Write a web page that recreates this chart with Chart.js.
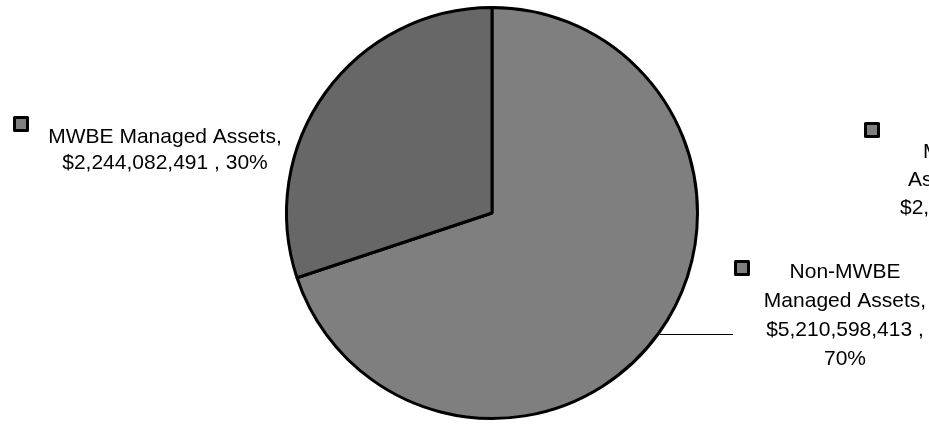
<!DOCTYPE html>
<html>
<head>
<meta charset="utf-8">
<script src="https://cdn.jsdelivr.net/npm/chart.js@4.4.1/dist/chart.umd.min.js"></script>
<style>
  html, body { margin: 0; padding: 0; background: #ffffff; }
  #wrap { width: 929px; height: 426px; position: relative; }
</style>
</head>
<body>
<div id="wrap"><canvas id="c" width="929" height="426"></canvas></div>
<script>
// ---- Data ----
const categories = ["Non-MWBE Managed Assets", "MWBE Managed Assets"];
const assetValues = [5210598413, 2244082491];
const percentLabels = ["70%", "30%"];
const sliceColors = ["#7f7f7f", "#676767"];

function fmtMoney(v) {
  return "$" + v.toLocaleString("en-US");
}

const FONT = '21px "Liberation Sans", Arial, sans-serif';

const labelPlugin = {
  id: "sliceLabels",
  afterDatasetsDraw(chart) {
    const ctx = chart.ctx;
    const meta = chart.getDatasetMeta(0);
    const arc0 = meta.data[0];
    const cx = arc0.x, cy = arc0.y, r = arc0.outerRadius;
    ctx.save();
    ctx.font = FONT;
    ctx.fillStyle = "#000";
    ctx.textBaseline = "middle";

    function marker(x, y) {
      ctx.save();
      ctx.fillStyle = "#7f7f7f";
      ctx.strokeStyle = "#000";
      ctx.lineWidth = 3;
      ctx.lineJoin = "round";
      ctx.beginPath();
      ctx.rect(x, y, 13, 13);
      ctx.fill();
      ctx.stroke();
      ctx.restore();
    }

    // Leader line for Non-MWBE slice at its mid angle
    const mid = (arc0.startAngle + arc0.endAngle) / 2;
    const lx = cx + Math.cos(mid) * (r + 1);
    const ly = cy + Math.sin(mid) * (r + 1);
    ctx.save();
    ctx.strokeStyle = "#000";
    ctx.lineWidth = 1.2;
    ctx.beginPath();
    ctx.moveTo(lx, Math.round(ly) + 0.5);
    ctx.lineTo(cx + 241, Math.round(ly) + 0.5);
    ctx.stroke();
    ctx.restore();

    // Non-MWBE label (wrapped, centered)
    const nonLines = ["Non-MWBE", "Managed Assets,", fmtMoney(assetValues[0]) + " ,", percentLabels[0]];
    ctx.textAlign = "center";
    const nx = cx + 353, ny = cy + 59;
    nonLines.forEach((t, i) => ctx.fillText(t, nx, ny + i * 29));
    marker(cx + 243.5, cy + 48.5);

    // MWBE label (left)
    const mLines = [categories[1] + ",", fmtMoney(assetValues[1]) + " , " + percentLabels[1]];
    const mx = cx - 327, my = cy - 75.5;
    mLines.forEach((t, i) => ctx.fillText(t, mx, my + i * 26));
    marker(cx - 477.5, cy - 95.5);

    // Duplicate MWBE label cut off at the right edge
    ctx.textAlign = "left";
    marker(cx + 373.5, cy - 89.5);
    const dupLines = ["MWBE Managed", "Assets,", fmtMoney(assetValues[1]) + " , " + percentLabels[1]];
    const dupX = [cx + 431, cx + 416, cx + 408];
    dupLines.forEach((t, i) => ctx.fillText(t, dupX[i], cy - 61 + i * 28));
    ctx.restore();
  }
};

new Chart(document.getElementById("c"), {
  type: "pie",
  data: {
    labels: categories,
    datasets: [{
      data: assetValues,
      backgroundColor: sliceColors,
      borderColor: "#000000",
      borderWidth: 3,
      borderAlign: "center"
    }]
  },
  options: {
    responsive: false,
    animation: false,
    layout: { padding: { left: 200, right: 145, top: 6, bottom: 6 } },
    plugins: {
      legend: { display: false },
      tooltip: { enabled: false }
    }
  },
  plugins: [labelPlugin]
});
</script>
</body>
</html>
